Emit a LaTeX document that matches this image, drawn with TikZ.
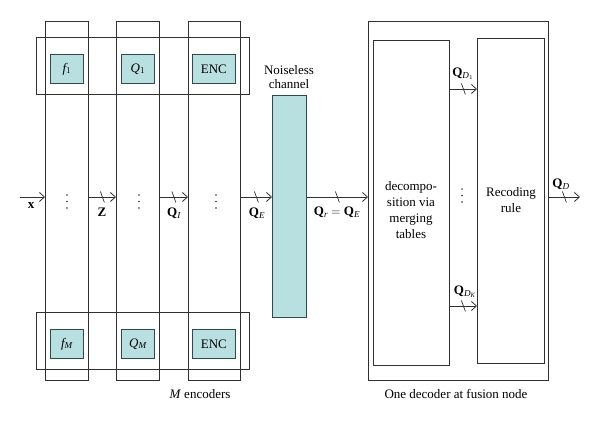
\documentclass[tikz,border=0pt]{standalone}
\usepackage{fontspec}
\setmainfont{Liberation Serif}
\usetikzlibrary{arrows.meta,decorations.markings}
\definecolor{linec}{HTML}{303030}
\definecolor{tealfill}{HTML}{B8E0E0}
\definecolor{tealline}{HTML}{2E4A4A}
\begin{document}
\begin{tikzpicture}[x=1pt,y=-1pt,
  every node/.style={font=\fontsize{13}{15}\selectfont},
  frame/.style={draw=linec, line width=0.8pt, inner sep=0pt, anchor=north west},
  tbox/.style={draw=tealline, fill=tealfill, line width=0.8pt, inner sep=0pt, anchor=north west},
  sig/.style={draw=linec, line width=0.8pt, -{Straight Barb[length=5pt,width=9pt]}},
  slash/.style={postaction={decorate}, decoration={markings, mark=at position 0.5 with {\draw[linec, line width=0.7pt, arrows=-] (-2pt,5.5pt) -- (2pt,-5.5pt);}}},
  lbl/.style={inner sep=0pt},
  dotm/.style={fill=linec}
]
\useasboundingbox (0,0) rectangle (600,422);
% encoder columns and bands
\node[frame, minimum width=43pt, minimum height=359pt] (c1) at (45,21) {};
\node[frame, minimum width=43pt, minimum height=359pt] (c2) at (116,21) {};
\node[frame, minimum width=52pt, minimum height=359pt] (c3) at (188,21) {};
\node[frame, minimum width=213pt, minimum height=57pt] (bt) at (36,37) {};
\node[frame, minimum width=213pt, minimum height=57pt] (bb) at (36,312) {};
% inner boxes
\node[tbox, minimum width=33pt, minimum height=29pt] (f1) at (50,54) {};
\node[lbl] (f1t) at (f1.center) {$\mathit{f}_{1}$};
\node[tbox, minimum width=33pt, minimum height=29pt] (q1) at (121,54) {};
\node[lbl] (q1t) at (q1.center) {$\mathit{Q}_{1}$};
\node[tbox, minimum width=43pt, minimum height=29pt] (e1) at (192,54) {};
\node[lbl] (e1t) at (e1.center) {ENC};
\node[tbox, minimum width=33pt, minimum height=29pt] (fm) at (50,329) {};
\node[lbl] (fmt) at (fm.center) {$\mathit{f}_{\mathit{M}}$};
\node[tbox, minimum width=33pt, minimum height=29pt] (qm) at (121,329) {};
\node[lbl] (qmt) at (qm.center) {$\mathit{Q}_{\mathit{M}}$};
\node[tbox, minimum width=43pt, minimum height=29pt] (em) at (192,329) {};
\node[lbl] (emt) at (em.center) {ENC};
% channel
\node[tbox, minimum width=34pt, minimum height=222pt] (ch) at (272,95) {};
\node[inner sep=0pt, align=center, font=\fontsize{13}{13.5}\selectfont] (cht) at (289,77) {Noiseless\\channel};
% decoder
\node[frame, minimum width=180pt, minimum height=359pt] (dec) at (368,21) {};
\node[frame, minimum width=76pt, minimum height=325pt] (dl) at (373,40) {};
\node[frame, minimum width=67pt, minimum height=325pt] (dr) at (477,38) {};
\node[inner sep=0pt, align=center, font=\fontsize{13}{16}\selectfont] (dlt) at (411,210) {decompo-\\sition via\\merging\\tables};
\node[inner sep=0pt, align=center, font=\fontsize{13}{16.5}\selectfont] (drt) at (511,200) {Recoding\\rule};
% dots
\foreach \dx/\dy in {67/195, 139/195, 216/195, 462/189} {
  \fill[dotm] (\dx,\dy) circle[radius=0.9pt];
  \fill[dotm] (\dx,\dy+6.5) circle[radius=0.9pt];
  \fill[dotm] (\dx,\dy+13) circle[radius=0.9pt];
}
% arrows
\coordinate (mid) at (0,197);
\coordinate (xin) at (20,197);
\coordinate (qout) at (580,197);
\coordinate (r1) at (0,89);
\coordinate (rk) at (0,306);
\draw[sig] (xin) -- (c1.west |- mid);
\draw[sig, slash] (c1.east |- mid) -- (c2.west |- mid);
\draw[sig, slash] (c2.east |- mid) -- (c3.west |- mid);
\draw[sig, slash] (c3.east |- mid) -- (ch.west |- mid);
\draw[sig, slash] (ch.east |- mid) -- (dec.west |- mid);
\draw[sig, slash] (dec.east |- mid) -- (qout);
\draw[sig, slash] (dl.east |- r1) -- (dr.west |- r1);
\draw[sig, slash] (dl.east |- rk) -- (dr.west |- rk);
% labels
\node[lbl] (lx) at (31,206) {$\mathbf{x}$};
\node[lbl] (lz) at (102,212) {$\mathbf{Z}$};
\node[lbl] (lqi) at (174,213) {$\mathbf{Q}_{\mathit{I}}$};
\node[lbl] (lqe) at (257,213) {$\mathbf{Q}_{\mathit{E}}$};
\node[lbl] (lqr) at (337,212) {$\mathbf{Q}_{\mathit{r}} = \mathbf{Q}_{\mathit{E}}$};
\node[lbl] (lqd) at (561,184) {$\mathbf{Q}_{\mathit{D}}$};
\node[lbl] (lq1) at (463,74) {$\mathbf{Q}_{\mathit{D}_{1}}$};
\node[lbl] (lqk) at (465,292) {$\mathbf{Q}_{\mathit{D}_{\mathit{K}}}$};
\node[lbl] (enc) at (200,394) {\textit{M} encoders};
\node[lbl] (decl) at (456,394) {One decoder at fusion node};
\end{tikzpicture}
\end{document}
